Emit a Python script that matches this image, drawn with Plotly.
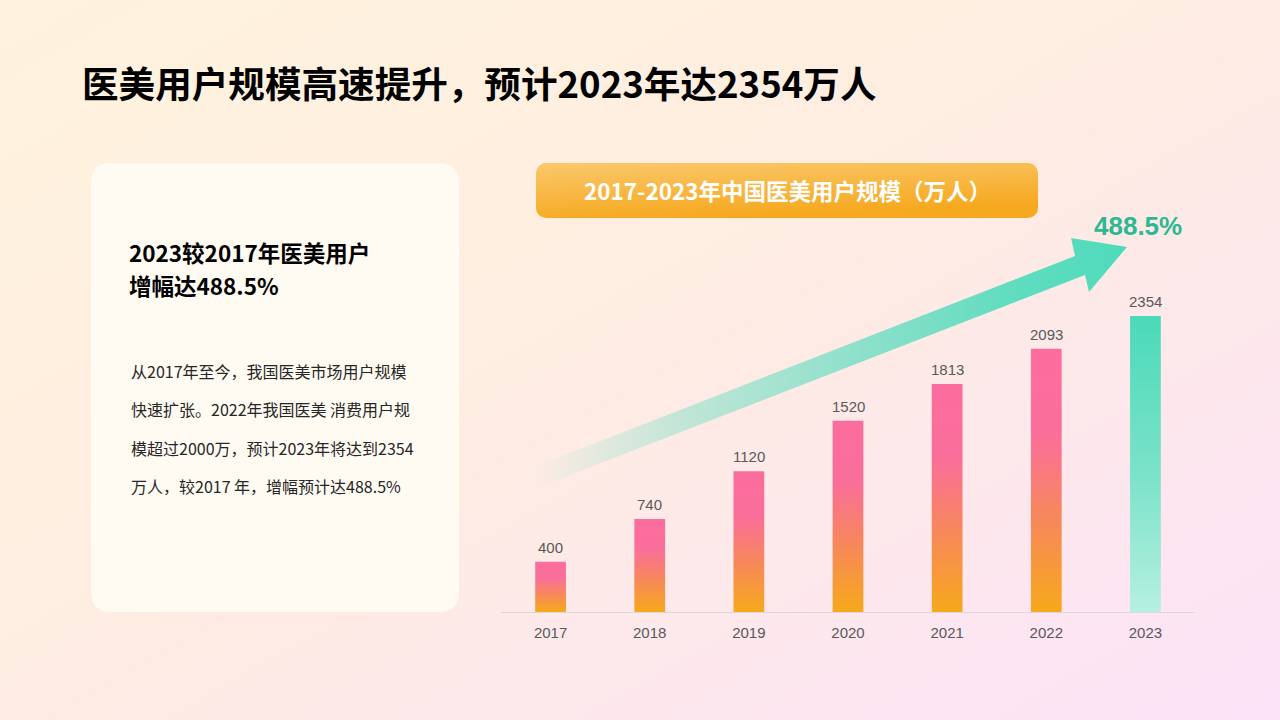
import base64
import plotly.graph_objects as go

# data
years = ["2017", "2018", "2019", "2020", "2021", "2022", "2023"]
users = [400, 740, 1120, 1520, 1813, 2093, 2354]
growth_label = "488.5%"

title_text = "医美用户规模高速提升，预计2023年达2354万人"
chart_title = "2017-2023年中国医美用户规模（万人）"
card_heading = ["2023较2017年医美用户", "增幅达488.5%"]
card_body = [
    "从2017年至今，我国医美市场用户规模",
    "快速扩张。2022年我国医美 消费用户规",
    "模超过2000万，预计2023年将达到2354",
    "万人，较2017 年，增幅预计达488.5%",
]

W, H = 1280, 720
CJK = "Noto Sans CJK SC"
LAT = "Liberation Sans, Arial, sans-serif"


def px(x):
    return x / W


def py(y):
    return 1 - y / H


def svg_uri(svg):
    return "data:image/svg+xml;base64," + base64.b64encode(svg.encode("utf-8")).decode()


def rounded_rect(x0, y0, x1, y1, r):
    return (f"M{x0 + r},{y0} L{x1 - r},{y0} Q{x1},{y0} {x1},{y0 + r} "
            f"L{x1},{y1 - r} Q{x1},{y1} {x1 - r},{y1} L{x0 + r},{y1} "
            f"Q{x0},{y1} {x0},{y1 - r} L{x0},{y0 + r} Q{x0},{y0} {x0 + r},{y0} Z")


bg_svg = f"""<svg xmlns="http://www.w3.org/2000/svg" width="{W}" height="{H}" viewBox="0 0 {W} {H}" preserveAspectRatio="none">
<defs><linearGradient id="g" x1="0" y1="0" x2="1" y2="1">
<stop offset="0" stop-color="#FFF3DD"/><stop offset="0.45" stop-color="#FEEDE1"/><stop offset="1" stop-color="#FCE2F7"/>
</linearGradient></defs><rect width="{W}" height="{H}" fill="url(#g)"/></svg>"""

banner_svg = """<svg xmlns="http://www.w3.org/2000/svg" width="502" height="55" viewBox="0 0 502 55" preserveAspectRatio="none">
<defs><linearGradient id="b" x1="0" y1="0" x2="0.35" y2="1">
<stop offset="0" stop-color="#FAC86C"/><stop offset="1" stop-color="#F6A81E"/>
</linearGradient></defs><rect width="502" height="55" rx="10" ry="10" fill="url(#b)"/></svg>"""

fig = go.Figure()

# bars drawn as gradient-filled polygons on the value axis
bar_w = 0.31
pink = [[0, "#F6A91B"], [0.35, "#F7885A"], [0.68, "#FA6E9B"], [1, "#FB6D9E"]]
teal = [[0, "#B6F0E0"], [0.45, "#7DE2CA"], [1, "#4ADAB8"]]
for i, v in enumerate(users):
    cs = teal if i == len(users) - 1 else pink
    fig.add_trace(go.Scatter(
        x=[i - bar_w / 2, i + bar_w / 2, i + bar_w / 2, i - bar_w / 2, i - bar_w / 2],
        y=[0, 0, v, v, 0],
        mode="lines",
        fill="toself",
        fillgradient=dict(type="vertical", colorscale=cs),
        line=dict(width=0, color="rgba(0,0,0,0)"),
        hoverinfo="skip",
        showlegend=False,
    ))

# decorative growth arrow (pixel space overlay)
arrow_x = [534, 1075, 1071, 1127, 1089, 1085, 534, 534]
arrow_y = [467, 256, 238, 247, 292, 275, 489, 467]
fig.add_trace(go.Scatter(
    x=arrow_x, y=arrow_y,
    xaxis="x2", yaxis="y2",
    mode="lines",
    fill="toself",
    fillgradient=dict(type="horizontal", colorscale=[
        [0, "rgba(80,219,187,0)"], [0.25, "rgba(80,219,187,0.35)"],
        [0.55, "rgba(80,219,187,0.65)"], [0.8, "rgba(80,219,187,0.9)"],
        [1, "rgba(78,219,187,1)"]]),
    line=dict(width=0, color="rgba(0,0,0,0)"),
    hoverinfo="skip",
    showlegend=False,
))

y_max = 2354 * (612 - 250) / (612 - 316)

annotations = [
    dict(x=px(80), y=py(82), xref="paper", yref="paper", xanchor="left", yanchor="middle",
         text=f"<b>{title_text}</b>", showarrow=False,
         font=dict(family=CJK, size=36.6, color="#000000")),
    dict(x=px(787), y=py(190), xref="paper", yref="paper", xanchor="center", yanchor="middle",
         text=f"<b>{chart_title}</b>", showarrow=False,
         font=dict(family=CJK, size=22.5, color="#FFFFFF")),
    dict(x=px(1138), y=py(226), xref="paper", yref="paper", xanchor="center", yanchor="middle",
         text=f"<b>{growth_label}</b>", showarrow=False,
         font=dict(family=LAT, size=26, color="#2DB894")),
]
for k, line in enumerate(card_heading):
    annotations.append(dict(
        x=px(127), y=py(252 + k * 33), xref="paper", yref="paper",
        xanchor="left", yanchor="middle", text=f"<b>{line}</b>", showarrow=False,
        font=dict(family=CJK, size=22.5, color="#000000")))
for k, line in enumerate(card_body):
    annotations.append(dict(
        x=px(129), y=py(371 + k * 38.3), xref="paper", yref="paper",
        xanchor="left", yanchor="middle", text=line, showarrow=False,
        font=dict(family=CJK, size=16, color="#262626")))

# value labels above each bar
for i, v in enumerate(users):
    annotations.append(dict(
        x=i, y=v, xref="x", yref="y", xanchor="center", yanchor="bottom",
        yshift=4, text=str(v), showarrow=False,
        font=dict(family=LAT, size=15, color="#595959")))

fig.update_layout(
    width=W, height=H,
    margin=dict(l=0, r=0, t=0, b=0),
    paper_bgcolor="#FEEFE2",
    plot_bgcolor="rgba(0,0,0,0)",
    showlegend=False,
    xaxis=dict(
        domain=[px(501), px(1195)],
        range=[-0.5, len(years) - 0.5],
        tickvals=list(range(len(years))),
        ticktext=years,
        showgrid=False, zeroline=False,
        showline=True, linecolor="#D9D9D9", linewidth=1,
        ticks="", ticklabelstandoff=7,
        tickfont=dict(family=LAT, size=15, color="#595959"),
        fixedrange=True,
    ),
    yaxis=dict(
        domain=[py(612), py(250)],
        range=[0, y_max],
        visible=False,
        fixedrange=True,
    ),
    xaxis2=dict(domain=[0, 1], range=[0, W], visible=False, anchor="y2", fixedrange=True),
    yaxis2=dict(domain=[0, 1], range=[H, 0], visible=False, anchor="x2", fixedrange=True),
    images=[
        dict(source=svg_uri(bg_svg), xref="paper", yref="paper", x=0, y=1,
             sizex=1, sizey=1, xanchor="left", yanchor="top", sizing="stretch", layer="below"),
        dict(source=svg_uri(banner_svg), xref="paper", yref="paper", x=px(536), y=py(163),
             sizex=502 / W, sizey=55 / H, xanchor="left", yanchor="top", sizing="stretch", layer="below"),
    ],
    shapes=[
        dict(type="path", xref="x2", yref="y2", path=rounded_rect(91, 163, 459, 612, 20),
             fillcolor="#FFFBF3", line=dict(width=0), layer="below"),
    ],
    annotations=annotations,
)

fig.write_html("out.html", config={"displayModeBar": False},
               post_script="document.body.style.margin='0';")
